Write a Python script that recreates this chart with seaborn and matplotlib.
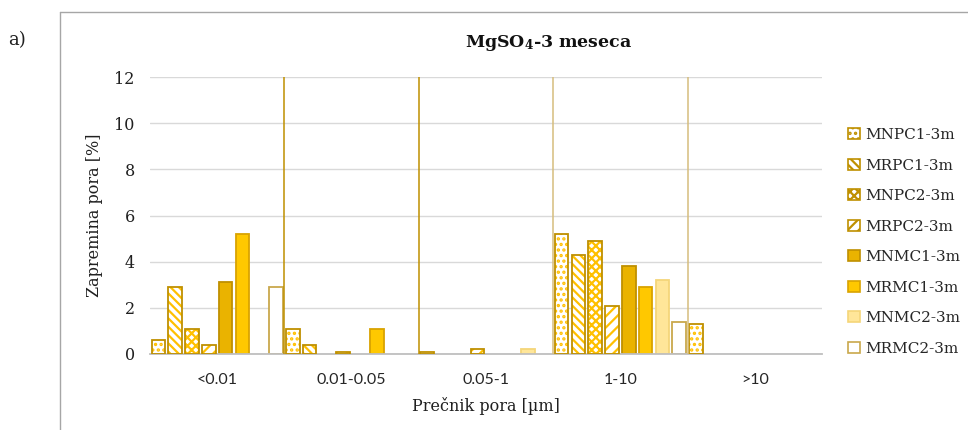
import matplotlib
matplotlib.use("Agg")
import matplotlib.pyplot as plt
import seaborn as sns
import pandas as pd
from matplotlib.patches import Patch, Rectangle
from matplotlib.lines import Line2D

# ---- data ----
categories = ["<0.01", "0.01-0.05", "0.05-1", "1-10", ">10"]
series = ["MNPC1-3m", "MRPC1-3m", "MNPC2-3m", "MRPC2-3m",
          "MNMC1-3m", "MRMC1-3m", "MNMC2-3m", "MRMC2-3m"]
mnpc1 = [0.6, 1.1, 0.1, 5.2, 1.3]
mrpc1 = [2.9, 0.4, 0.0, 4.3, 0.0]
mnpc2 = [1.1, 0.0, 0.0, 4.9, 0.0]
mrpc2 = [0.4, 0.1, 0.2, 2.1, 0.0]
mnmc1 = [3.1, 0.0, 0.0, 3.8, 0.0]
mrmc1 = [5.2, 1.1, 0.0, 2.9, 0.0]
mnmc2 = [0.0, 0.0, 0.2, 3.2, 0.0]
mrmc2 = [2.9, 0.0, 0.0, 1.4, 0.0]
values = [mnpc1, mrpc1, mnpc2, mrpc2, mnmc1, mrmc1, mnmc2, mrmc2]
yticks = [0, 2, 4, 6, 8, 10, 12]

rows = []
for s, vals in zip(series, values):
    for c, v in zip(categories, vals):
        rows.append({"cat": c, "series": s, "val": v})
df = pd.DataFrame(rows)

# ---- styles ----
DARK = "#bf9000"
GOLD = "#ffc000"
faces = ["white", "white", "white", "white", "#eab300", "#ffc800", "#ffe699", "white"]
hatches = ["...", "\\\\\\\\", "xxxx", "///", None, None, None, None]
edges = [DARK, DARK, DARK, DARK, DARK, "#d9a300", "#f5d679", "#c9a84c"]

sns.set_style("white")
plt.rcParams["font.family"] = ["DejaVu Serif"]
plt.rcParams["mathtext.fontset"] = "dejavuserif"
plt.rcParams["hatch.linewidth"] = 1.6

fig = plt.figure(figsize=(9.68, 4.3), dpi=100)
ax = fig.add_axes([150 / 968, 1 - 354 / 430, 672 / 968, 277 / 430])

sns.barplot(data=df, x="cat", y="val", hue="series", order=categories,
            hue_order=series, palette=dict(zip(series, faces)), width=1.0,
            gap=0.18, saturation=1, legend=False, ax=ax, linewidth=1.2,
            edgecolor=DARK, zorder=2)

for i, cont in enumerate(ax.containers):
    for p in cont.patches:
        if p.get_height() == 0:
            p.set_visible(False)
            continue
        p.set_facecolor(faces[i])
        if hatches[i]:
            p.set_hatch(hatches[i])
            p.set_edgecolor(GOLD)
            p.set_linewidth(0)
            ax.add_patch(Rectangle(p.get_xy(), p.get_width(), p.get_height(),
                                   fill=False, edgecolor=DARK, lw=1.3, zorder=3))
        else:
            p.set_edgecolor(edges[i])
            p.set_linewidth(1.3)

# separators between categories
sep_colors = ["#bf9000", "#bf9000", "#d6bd7d", "#d6bd7d"]
for k, col in enumerate(sep_colors):
    ax.axvline(k + 0.5, color=col, lw=1.1, zorder=4)

ax.set_xlim(-0.5, len(categories) - 0.5)
ax.set_ylim(0, 12)
ax.set_yticks(yticks)
ax.yaxis.grid(True, color="#d9d9d9", lw=1)
ax.set_axisbelow(True)
for s in ["top", "right", "left"]:
    ax.spines[s].set_visible(False)
ax.spines["bottom"].set_color("#bfbfbf")
ax.spines["bottom"].set_linewidth(1.3)
ax.tick_params(axis="both", length=0)
ax.tick_params(axis="y", pad=11, labelsize=11.5)
ax.tick_params(axis="x", pad=14)
for t in ax.get_xticklabels():
    t.set_fontfamily("Lato")
    t.set_fontsize(11.5)
for t in ax.get_yticklabels():
    t.set_color("#202020")

ax.set_xlabel("Prečnik pora [µm]", fontsize=11.5, color="#202020")
ax.set_ylabel("Zapremina pora [%]", fontsize=11.5, color="#202020")
ax.xaxis.set_label_coords(0.5, -0.155)
ax.yaxis.set_label_coords(-0.07, 0.5)

fig.text(549 / 968, 1 - 43 / 430, r"MgSO$_\mathbf{4}$-3 meseca", ha="center",
         va="center", fontsize=12.5, fontweight="bold", color="#111111")
fig.text(8 / 968, 1 - 40 / 430, "a)", fontsize=13, va="center", color="#202020")

# legend
handles = []
for i in range(len(series)):
    if hatches[i]:
        handles.append(Patch(facecolor=faces[i], edgecolor=DARK, hatch=hatches[i], lw=1.2))
    else:
        handles.append(Patch(facecolor=faces[i], edgecolor=edges[i], lw=1.2))
fig.legend(handles, series, loc="upper left", bbox_to_anchor=(842 / 968, 1 - 122 / 430),
           frameon=False, fontsize=11, handlelength=0.75, handleheight=0.75,
           handletextpad=0.35, labelspacing=1.08, borderaxespad=0)

# outer chart frame
fig.add_artist(Line2D([60 / 968, 60 / 968], [0, 1 - 12 / 430], color="#a6a6a6", lw=1))
fig.add_artist(Line2D([60 / 968, 1], [1 - 12 / 430, 1 - 12 / 430], color="#a6a6a6", lw=1))

fig.savefig("out.png", dpi=100)
